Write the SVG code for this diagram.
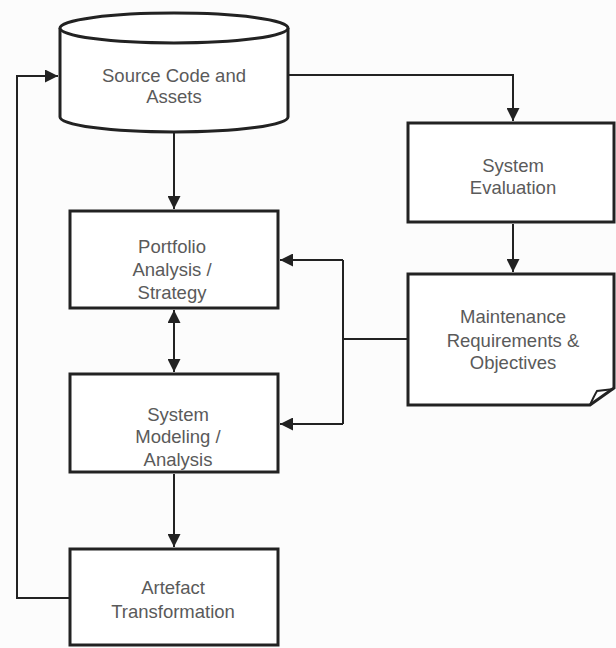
<svg xmlns="http://www.w3.org/2000/svg" width="616" height="648" viewBox="0 0 616 648">
<defs>
<style>
.box{fill:#fff;stroke:#222;stroke-width:3}
.ln{fill:none;stroke:#222;stroke-width:2}
.t{font-family:"Liberation Sans",Arial,sans-serif;font-size:18.5px;fill:#5a5a5a;text-anchor:middle}
</style>
<marker id="ah" viewBox="0 0 13 13" refX="13" refY="6.5" markerWidth="13" markerHeight="13" markerUnits="userSpaceOnUse" orient="auto-start-reverse">
<path d="M0,0 L13,6.5 L0,13 Z" fill="#222"/>
</marker>
</defs>
<rect width="616" height="648" fill="#fcfcfc"/>
<g id="connectors">
<path class="ln" d="M174,132 V209" marker-end="url(#ah)"/>
<path class="ln" d="M174,310 V372" marker-start="url(#ah)" marker-end="url(#ah)"/>
<path class="ln" d="M174,474 V547" marker-end="url(#ah)"/>
<path class="ln" d="M70,598 H17 V76 H58" marker-end="url(#ah)"/>
<path class="ln" d="M288,75 H513 V121" marker-end="url(#ah)"/>
<path class="ln" d="M513,224 V272" marker-end="url(#ah)"/>
<path class="ln" d="M408,339 H343"/>
<path class="ln" d="M343,260 V424"/>
<path class="ln" d="M343,260 H280" marker-end="url(#ah)"/>
<path class="ln" d="M343,424 H280" marker-end="url(#ah)"/>
</g>
<g id="source">
<path class="box" d="M60,28 V117 A114,15 0 0 0 288,117 V28"/>
<ellipse class="box" cx="174" cy="28" rx="114" ry="15"/>
<text class="t" x="174" y="82">Source Code and</text>
<text class="t" x="174" y="103">Assets</text>
</g>
<g id="portfolio">
<rect class="box" x="70" y="211" width="208" height="97"/>
<text class="t" x="172" y="253">Portfolio</text>
<text class="t" x="172" y="276">Analysis /</text>
<text class="t" x="172" y="299">Strategy</text>
</g>
<g id="modeling">
<rect class="box" x="70" y="374" width="208" height="98"/>
<text class="t" x="178" y="421">System</text>
<text class="t" x="178" y="443">Modeling /</text>
<text class="t" x="178" y="466">Analysis</text>
</g>
<g id="artefact">
<rect class="box" x="70" y="549" width="208" height="96"/>
<text class="t" x="173" y="594">Artefact</text>
<text class="t" x="173" y="618">Transformation</text>
</g>
<g id="evaluation">
<rect class="box" x="408" y="123" width="206" height="99"/>
<text class="t" x="513" y="172">System</text>
<text class="t" x="513" y="194">Evaluation</text>
</g>
<g id="maintenance">
<path class="box" d="M408,274 H614 V388 L590,405 H408 Z"/>
<path class="ln" d="M590,405 Q594,396 597,391 L614,389" stroke-width="2.5"/>
<text class="t" x="513" y="323">Maintenance</text>
<text class="t" x="513" y="347">Requirements &amp;</text>
<text class="t" x="513" y="369">Objectives</text>
</g>
</svg>
